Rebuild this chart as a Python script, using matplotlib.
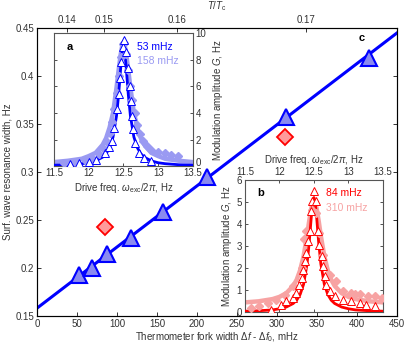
import matplotlib
matplotlib.use("Agg")
import matplotlib.pyplot as plt

plt.rcParams['font.family'] = ['Liberation Sans', 'DejaVu Sans']
plt.rcParams['font.size'] = 7
plt.rcParams['mathtext.fontset'] = 'custom'
plt.rcParams['mathtext.it'] = 'Liberation Sans:italic'
plt.rcParams['mathtext.rm'] = 'Liberation Sans'

# main panel c
fork_width = [52, 69, 88, 118, 157, 213, 311, 415]
res_width = [0.193, 0.200, 0.215, 0.231, 0.258, 0.295, 0.357, 0.419]
odd_width = [85, 310]
odd_res = [0.243, 0.336]
fit_x = [0, 450]
fit_y = [0.158, 0.445]
top_pos = [37.5, 83.8, 175, 336]
top_lab = ['0.14', '0.15', '0.16', '0.17']

# fit curves (insets)
freq = [11.5, 11.7, 11.9, 12.0, 12.1, 12.2, 12.25, 12.3, 12.35, 12.4, 12.43, 12.46, 12.48, 12.5,
        12.52, 12.54, 12.57, 12.6, 12.65, 12.7, 12.75, 12.8, 12.9, 13.0, 13.1, 13.3, 13.5]
fit_a53 = [0.065, 0.10, 0.18, 0.25, 0.39, 0.67, 0.93, 1.38, 2.19, 3.78, 5.36, 7.37, 8.53, 9.0,
           8.53, 7.37, 5.36, 3.78, 2.19, 1.38, 0.93, 0.67, 0.39, 0.25, 0.18, 0.10, 0.065]
fit_a158 = [0.3, 0.4, 0.55, 0.75, 1.0, 1.6, 2.1, 2.9, 4.0, 5.9, 7.2, 8.4, 9.0, 9.3,
            9.0, 8.4, 7.2, 5.9, 4.0, 2.9, 2.1, 1.6, 1.0, 0.75, 0.55, 0.4, 0.3]
fit_b84 = [0.04, 0.06, 0.10, 0.15, 0.23, 0.39, 0.54, 0.80, 1.26, 2.18, 3.10, 4.26, 4.93, 5.2,
           4.93, 4.26, 3.10, 2.18, 1.26, 0.80, 0.54, 0.39, 0.23, 0.15, 0.10, 0.06, 0.04]
fit_b310 = [0.44, 0.49, 0.59, 0.69, 0.86, 1.19, 1.47, 1.90, 2.54, 3.46, 4.11, 4.69, 4.96, 5.05,
            4.96, 4.69, 4.11, 3.46, 2.54, 1.90, 1.47, 1.19, 0.86, 0.69, 0.59, 0.49, 0.44]

# measured points (insets)
tri_a_f = [11.73, 11.86, 12.0, 12.1, 12.23, 12.29, 12.33, 12.36, 12.40, 12.43, 12.45, 12.47, 12.49,
           12.51, 12.53, 12.56, 12.59, 12.61, 12.62, 12.64, 12.67, 12.72, 12.8, 12.9]
tri_a_g = [0.15, 0.2, 0.3, 0.45, 1.0, 1.4, 1.9, 2.9, 4.3, 5.4, 6.6, 7.8, 9.0,
           9.5, 8.6, 7.4, 6.0, 4.9, 3.8, 2.8, 1.7, 1.0, 0.6, 0.4]
dia_a_f = [11.65, 11.8, 11.95, 12.05, 12.15, 12.22, 12.27, 12.31, 12.34, 12.37, 12.40, 12.43, 12.46,
           12.49, 12.51, 12.54, 12.57, 12.60, 12.63, 12.66, 12.70, 12.74, 12.78, 12.84, 12.9, 13.0,
           13.1, 13.18, 13.28]
dia_a_g = [0.2, 0.3, 0.45, 0.6, 0.9, 1.3, 1.8, 2.5, 3.3, 4.3, 5.5, 6.8, 8.2,
           9.2, 9.3, 8.4, 7.2, 6.0, 5.0, 4.0, 3.1, 2.4, 1.9, 1.5, 1.2, 1.07,
           0.97, 0.8, 0.75]
tri_b_f = [11.88, 12.03, 12.1, 12.2, 12.24, 12.29, 12.32, 12.34, 12.37, 12.39, 12.41, 12.44, 12.46,
           12.475, 12.495, 12.53, 12.56, 12.58, 12.61, 12.63, 12.66, 12.68, 12.73, 12.80, 12.92,
           13.04, 13.16, 13.26, 13.38]
tri_b_g = [0.1, 0.33, 0.49, 0.64, 0.86, 1.24, 1.55, 1.92, 2.3, 2.68, 3.21, 3.67, 4.58,
           5.03, 5.49, 5.03, 3.67, 3.06, 2.53, 2.08, 1.62, 1.24, 0.94, 0.71, 0.56,
           0.49, 0.41, 0.33, 0.26]
dia_b_f = [11.59, 11.71, 11.83, 11.95, 12.08, 12.2, 12.32, 12.36, 12.39, 12.47, 12.53, 12.58, 12.63,
           12.73, 12.82, 12.92, 13.04, 13.1, 13.17, 13.28, 13.38, 13.48]
dia_b_g = [0.18, 0.26, 0.41, 0.56, 0.79, 1.17, 2.0, 3.3, 3.7, 4.65, 4.5, 3.59, 2.6,
           1.7, 1.39, 0.94, 0.86, 0.8, 0.8, 0.71, 0.71, 0.64]

blue = '#0000ff'
lblue = '#9a9af2'
red = '#ff0000'
pink = '#f7a3a3'
txt = '#333333'

fig = plt.figure(figsize=(4.15, 3.46), dpi=100)
ax = fig.add_axes([0.089, 0.087, 0.868, 0.832])
ax.plot(fit_x, fit_y, color=blue, lw=2.2, zorder=2)
ax.plot(fork_width, res_width, '^', ms=12, mfc='#8a8af0', mec=blue, mew=1.5, zorder=3)
ax.plot(odd_width, odd_res, 'D', ms=8, mfc='#ff9a9a', mec=red, mew=1.3, zorder=3)
ax.set_xlim(0, 450)
ax.set_ylim(0.15, 0.45)
ax.set_xticks(range(0, 451, 50))
ax.set_yticks([0.15, 0.2, 0.25, 0.3, 0.35, 0.4, 0.45])
ax.set_yticklabels(['0.15', '0.2', '0.25', '0.3', '0.35', '0.4', '0.45'])
ax.tick_params(direction='in', length=3, width=0.7, colors=txt, right=True, pad=2)
ax.set_xlabel('Thermometer fork width $\\Delta f$ - $\\Delta f_0$, mHz', color=txt, labelpad=1)
ax.set_ylabel('Surf. wave resonance width, Hz', color=txt, labelpad=2)
ax.text(406, 0.44, 'c', fontweight='bold', fontsize=8, ha='center', va='center')
for s in ax.spines.values():
    s.set_linewidth(0.8)
    s.set_color('#444444')

top = ax.twiny()
top.set_xlim(0, 450)
top.set_xticks(top_pos)
top.set_xticklabels(top_lab)
top.tick_params(direction='in', length=3, width=0.7, colors=txt, pad=2)
top.set_xlabel('$T/T_\\mathrm{c}$', color=txt, labelpad=4)

# inset a
ia = fig.add_axes([0.130, 0.520, 0.335, 0.384])
ia.plot(freq, fit_a158, color=lblue, lw=3.2, zorder=2)
ia.plot(freq, fit_a53, color=blue, lw=2, zorder=3)
ia.plot(dia_a_f, dia_a_g, 'D', ms=4.5, mfc=lblue, mec=lblue, zorder=4)
ia.plot(tri_a_f, tri_a_g, '^', ms=5.5, mfc='white', mec=blue, mew=0.7, zorder=5)
ia.set_xlim(11.5, 13.5)
ia.set_ylim(0, 10)
ia.set_xticks([11.5, 12, 12.5, 13, 13.5])
ia.set_xticklabels(['11.5', '12', '12.5', '13', '13.5'])
ia.set_yticks(range(0, 11, 2))
ia.yaxis.tick_right()
ia.yaxis.set_label_position('right')
ia.tick_params(direction='in', length=2.5, width=0.6, colors=txt, pad=2, left=True, top=False)
ia.tick_params(axis='x', pad=1.5)
ia.get_yticklabels()[0].set_va('baseline')
ia.set_xlabel('Drive freq. $\\omega_\\mathrm{exc}/2\\pi$, Hz', color=txt, labelpad=2)
ia.set_ylabel('Modulation amplitude $G$, Hz', color=txt, labelpad=3)
ia.text(0.09, 0.9, 'a', transform=ia.transAxes, fontweight='bold', fontsize=8, va='center')
ia.text(0.6, 0.9, '53 mHz', transform=ia.transAxes, color=blue, fontsize=7.5, va='center')
ia.text(0.6, 0.79, '158 mHz', transform=ia.transAxes, color=lblue, fontsize=7.5, va='center')
for s in ia.spines.values():
    s.set_linewidth(0.8)
    s.set_color('#555555')

# inset b
ib = fig.add_axes([0.590, 0.098, 0.333, 0.382])
ib.plot(freq, fit_b310, color=pink, lw=3.2, zorder=2)
ib.plot(freq, fit_b84, color=red, lw=2, zorder=3)
ib.plot(dia_b_f, dia_b_g, 'D', ms=4.5, mfc=pink, mec=pink, zorder=4)
ib.plot(tri_b_f, tri_b_g, '^', ms=5.5, mfc='white', mec=red, mew=0.7, zorder=5)
ib.set_xlim(11.5, 13.5)
ib.set_ylim(0, 6)
ib.set_xticks([11.5, 12, 12.5, 13, 13.5])
ib.set_xticklabels(['11.5', '12', '12.5', '13', '13.5'])
ib.set_yticks(range(0, 7))
ib.xaxis.tick_top()
ib.xaxis.set_label_position('top')
ib.tick_params(direction='in', length=2.5, width=0.6, colors=txt, pad=2, right=True, bottom=True)
ib.set_xlabel('Drive freq. $\\omega_\\mathrm{exc}/2\\pi$, Hz', color=txt, labelpad=3)
ib.set_ylabel('Modulation amplitude $G$, Hz', color=txt, labelpad=2)
ib.text(0.09, 0.9, 'b', transform=ib.transAxes, fontweight='bold', fontsize=8, va='center')
ib.text(0.59, 0.9, '84 mHz', transform=ib.transAxes, color=red, fontsize=7.5, va='center')
ib.text(0.59, 0.79, '310 mHz', transform=ib.transAxes, color=pink, fontsize=7.5, va='center')
for s in ib.spines.values():
    s.set_linewidth(0.8)
    s.set_color('#555555')

fig.savefig('out.png', dpi=100)
